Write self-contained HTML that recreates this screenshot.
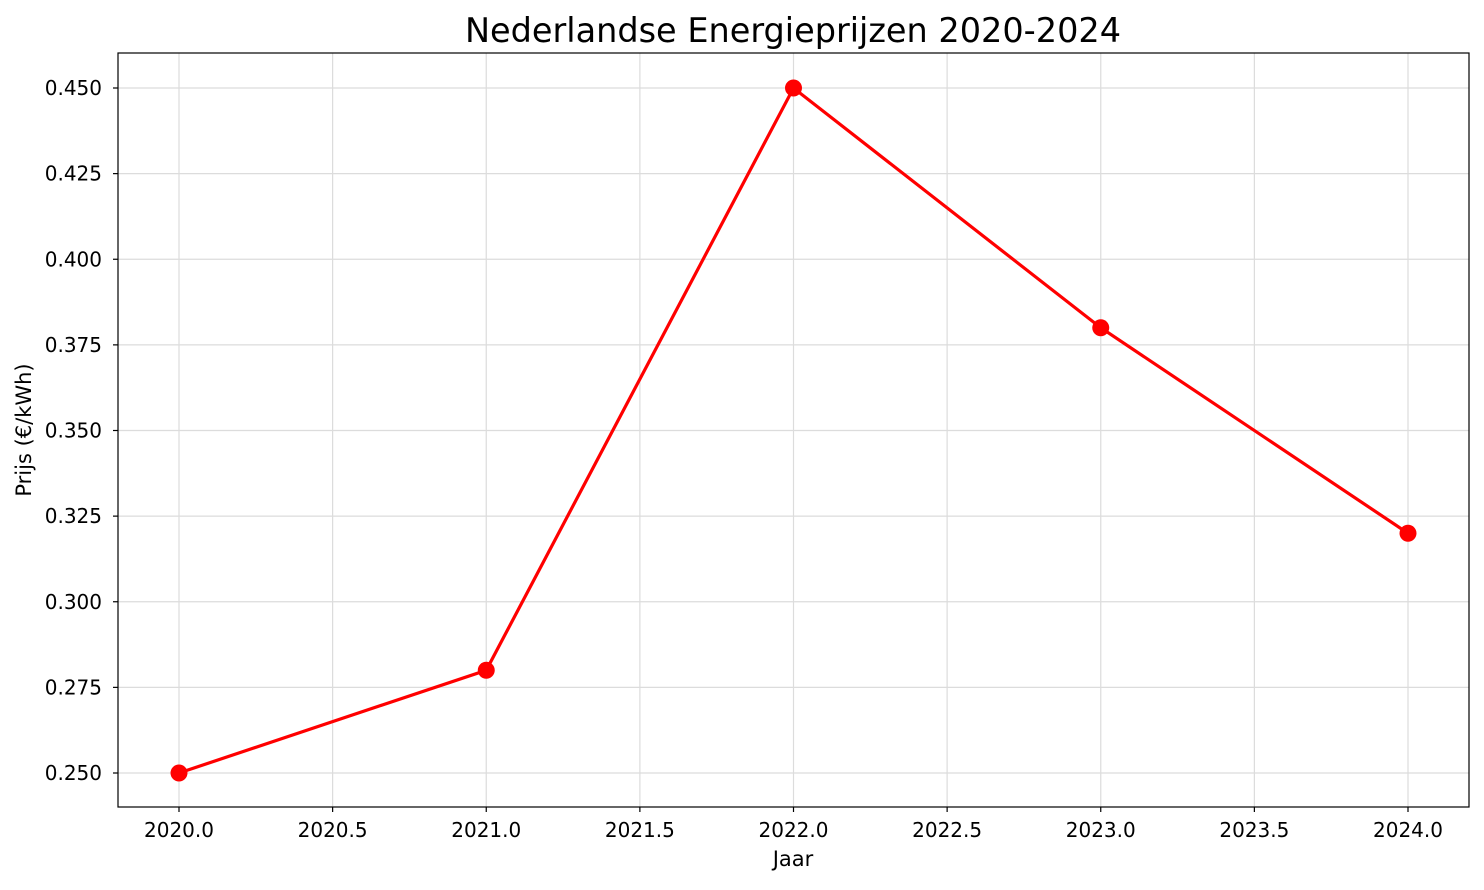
<!DOCTYPE html>
<html><head><meta charset="utf-8"><style>
body{margin:0;background:#fff}
svg text{font-family:"DejaVu Sans","Liberation Sans",sans-serif;fill:#000}
</style></head><body>
<svg id="chart" width="1484" height="885">
<text x="793" y="42" font-size="33.5" text-anchor="middle">Nederlandse Energieprijzen 2020-2024</text>
<g id="grid"></g>
<g id="ticks"></g>
<g id="series"></g>
<rect x="118" y="53" width="1351" height="754" fill="none" stroke="#000" stroke-width="1.2"/>
<text x="793" y="866" font-size="21" text-anchor="middle">Jaar</text>
<text x="0" y="0" font-size="21" text-anchor="middle" transform="translate(31,430) rotate(-90)">Prijs (€/kWh)</text>
</svg>
<script>
const years=[2020,2021,2022,2023,2024];
const prices=[0.25,0.28,0.45,0.38,0.32];
const xTicks=[2020.0,2020.5,2021.0,2021.5,2022.0,2022.5,2023.0,2023.5,2024.0];
const yTicks=[0.250,0.275,0.300,0.325,0.350,0.375,0.400,0.425,0.450];
const ns="http://www.w3.org/2000/svg";
function X(v){return 179+(v-2020)*307.25;}
function Y(v){return 773-(v-0.25)*3425;}
function mk(t,a,p){const e=document.createElementNS(ns,t);for(const k in a)e.setAttribute(k,a[k]);p.appendChild(e);return e;}
const grid=document.getElementById('grid'),ticks=document.getElementById('ticks'),ser=document.getElementById('series');
xTicks.forEach(v=>{const x=X(v);
const g=mk('line',{x1:x,x2:x,y1:53,y2:807,stroke:'#dcdcdc','stroke-width':1.2},grid);


mk('line',{x1:x,x2:x,y1:807,y2:812,stroke:'#000','stroke-width':1.2},ticks);
const t=mk('text',{x:x,y:837,'font-size':20,'text-anchor':'middle'},ticks);t.textContent=v.toFixed(1);

});
yTicks.forEach(v=>{const y=Y(v);
const g=mk('line',{x1:118,x2:1469,y1:y,y2:y,stroke:'#dcdcdc','stroke-width':1.2},grid);


mk('line',{x1:113,x2:118,y1:y,y2:y,stroke:'#000','stroke-width':1.2},ticks);
const t=mk('text',{x:102,y:y+7,'font-size':20,'text-anchor':'end'},ticks);t.textContent=v.toFixed(3);

});
const pl=mk('polyline',{points:years.map((y,i)=>X(y)+','+Y(prices[i])).join(' '),fill:'none',stroke:'#ff0000','stroke-width':3.2},ser);


years.forEach((y,i)=>{const c=mk('circle',{cx:X(y),cy:Y(prices[i]),r:8.5,fill:'#ff0000'},ser);

});
</script>
</body></html>
